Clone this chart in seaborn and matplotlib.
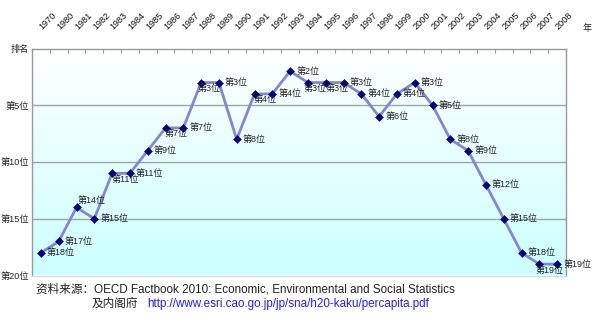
import numpy as np
import pandas as pd
import matplotlib
matplotlib.use("Agg")
import matplotlib.pyplot as plt
import matplotlib.transforms as mtransforms
from matplotlib.colors import LinearSegmentedColormap
import seaborn as sns

# ---- data ----
years = ["1970", "1980", "1981", "1982", "1983", "1984", "1985", "1986", "1987", "1988",
         "1989", "1990", "1991", "1992", "1993", "1994", "1995", "1996", "1997", "1998",
         "1999", "2000", "2001", "2002", "2003", "2004", "2005", "2006", "2007", "2008"]
ranks = [18, 17, 14, 15, 11, 11, 9, 7, 7, 3,
         3, 8, 4, 4, 2, 3, 3, 3, 4, 6,
         4, 3, 5, 8, 9, 12, 15, 18, 19, 19]
ytick_vals = [0, 5, 10, 15, 20]
ytick_labels = ["排名", "第5位", "第10位", "第15位", "第20位"]
# label placement: r = right, b = below, bl = below-left, a = above
placement = ["r", "r", "a", "r", "b", "r", "r", "b", "r", "bl",
             "r", "r", "b", "r", "r", "bl", "b", "r", "r", "r",
             "r", "r", "r", "r", "r", "r", "r", "r", "bl", "r"]

sns.set_theme(style="white")
plt.rcParams["font.family"] = ["Liberation Sans", "Noto Sans CJK SC", "DejaVu Sans"]

df = pd.DataFrame({"idx": np.arange(len(years)), "rank": ranks})

fig = plt.figure(figsize=(6.0, 3.23), dpi=100)
ax = fig.add_axes([32/600, 1 - 275.5/323, (566-32)/600, (275.5-48.5)/323])

# gradient background
grad = np.linspace(0, 1, 256).reshape(-1, 1)
cmap = LinearSegmentedColormap.from_list("bg", ["#ffffff", "#ccffff"])
ax.imshow(grad, aspect="auto", cmap=cmap, extent=[-0.5, len(years) - 0.5, 20, 0],
          zorder=0, interpolation="bicubic")

sns.lineplot(data=df, x="idx", y="rank", ax=ax, color="#8585d0", linewidth=2,
             zorder=3, legend=False)
sns.scatterplot(data=df, x="idx", y="rank", ax=ax, marker="D", s=17,
                color="#000080", edgecolor="#000080", linewidth=0.3, zorder=4, legend=False)

ax.set_xlim(-0.5, len(years) - 0.5)
ax.set_ylim(20, 0)

px = 72 / 100  # points per pixel
offsets = {"r": (6, 0), "b": (-0.5, -6), "bl": (-4, -6), "a": (1, 6.5)}
for i, (r, p) in enumerate(zip(ranks, placement)):
    dx, dy = offsets[p]
    ax.annotate(f"第{r}位", (i, r), xytext=(dx * px, dy * px), textcoords="offset points",
                ha="left", va="center", fontsize=6.5, color="#222222", zorder=5)

# y axis
ax.set_yticks(ytick_vals)
ax.set_yticklabels(ytick_labels, fontsize=6.6, color="#222222")
ax.tick_params(axis="y", length=0, pad=2)
ax.set_ylabel("")
ax.set_xlabel("")

# gridlines
for v in [5, 10, 15]:
    ax.axhline(v, color="#9aa5a5", linewidth=1, zorder=1)

# x axis on top
ax.set_xticks(np.arange(len(years)))
ax.set_xticklabels(years, fontsize=6.6, color="#111111")
ax.tick_params(axis="x", which="major", top=True, bottom=False, labeltop=True,
               labelbottom=False, length=0, pad=12)
for lab in ax.get_xticklabels():
    lab.set_rotation(45)
    lab.set_ha("left")
    lab.set_va("bottom")
    lab.set_rotation_mode("anchor")
    lab.set_transform(lab.get_transform() + mtransforms.ScaledTranslation(3/100, 0, fig.dpi_scale_trans))
ax.set_xticks(np.arange(len(years) + 1) - 0.5, minor=True)
ax.tick_params(axis="x", which="minor", top=True, bottom=False, direction="in",
               length=3, width=0.8, color="#999999")

for s in ["top", "right", "left"]:
    ax.spines[s].set_color("#999999")
    ax.spines[s].set_linewidth(1)
ax.spines["bottom"].set_color("#cfdede")
ax.spines["bottom"].set_linewidth(1)

fig.text(587/600, 1 - 28/323, "年", fontsize=6.6, ha="center", va="center", color="#222222")

fig.text(36/600, 1 - 289.5/323,
         "资料来源：OECD Factbook 2010: Economic, Environmental and Social Statistics",
         fontsize=8.4, ha="left", va="center", color="#222222")
fig.text(92/600, 1 - 304/323, "及内阁府", fontsize=8.4, ha="left", va="center", color="#222222")
fig.text(147/600, 1 - 304/323, "http://www.esri.cao.go.jp/jp/sna/h20-kaku/percapita.pdf",
         fontsize=8.4, ha="left", va="center", color="#2020ff")

fig.savefig("out.png", dpi=100, facecolor="white")
